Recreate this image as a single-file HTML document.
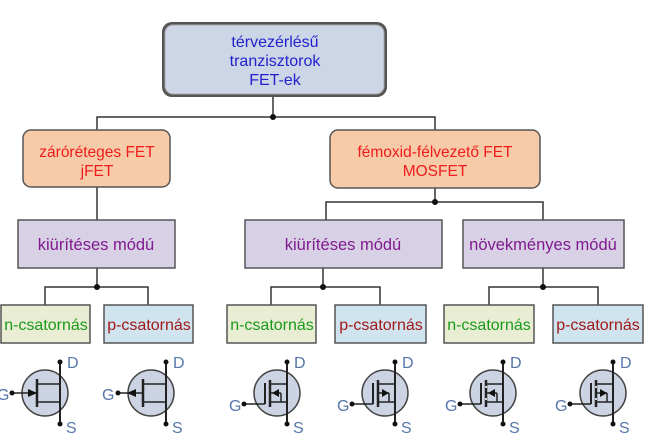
<!DOCTYPE html>
<html><head><meta charset="utf-8"><style>
html,body{margin:0;padding:0;background:#fff;width:656px;height:446px;overflow:hidden}
text{font-family:"Liberation Sans","DejaVu Sans",sans-serif}
</style></head><body>
<svg width="656" height="446" viewBox="0 0 656 446" xmlns="http://www.w3.org/2000/svg">
<defs>
<g id="jfet">
<circle cx="0" cy="0" r="23" fill="#ccd3e3" stroke="#444" stroke-width="1.5"/>
<line x1="15" y1="-31" x2="15" y2="31" stroke="#222" stroke-width="2"/>
<line x1="-8" y1="-14" x2="-8" y2="14" stroke="#222" stroke-width="2.5"/>
<line x1="-8" y1="-9" x2="15" y2="-9" stroke="#222" stroke-width="1.5"/>
<line x1="-8" y1="9" x2="15" y2="9" stroke="#222" stroke-width="1.5"/>
<circle cx="15" cy="-31" r="2.5" fill="#111"/><circle cx="15" cy="31" r="2.5" fill="#111"/>
<text x="22" y="-25" font-size="16" fill="#5577aa">D</text>
<text x="21" y="40" font-size="16" fill="#5577aa">S</text>
</g>
<g id="mos">
<circle cx="0" cy="0" r="23" fill="#ccd3e3" stroke="#444" stroke-width="1.5"/>
<line x1="10" y1="-31" x2="10" y2="31" stroke="#222" stroke-width="2"/>
<line x1="-33" y1="11" x2="-12" y2="11" stroke="#222" stroke-width="1.5"/>
<line x1="-12" y1="-10" x2="-12" y2="11" stroke="#222" stroke-width="2"/>
<line x1="-7" y1="-13" x2="-7" y2="14" stroke="#222" stroke-width="2.5"/>
<line x1="-7" y1="-9" x2="10" y2="-9" stroke="#222" stroke-width="1.5"/>
<line x1="-7" y1="0" x2="4" y2="0" stroke="#222" stroke-width="1.5"/>
<line x1="-7" y1="9" x2="10" y2="9" stroke="#222" stroke-width="1.5"/>
<line x1="4" y1="0" x2="4" y2="9" stroke="#222" stroke-width="1.5"/>
<circle cx="10" cy="-31" r="2.5" fill="#111"/><circle cx="10" cy="31" r="2.5" fill="#111"/>
<circle cx="-33" cy="11" r="2.5" fill="#111"/>
<text x="17" y="-25" font-size="16" fill="#5577aa">D</text>
<text x="16" y="40" font-size="16" fill="#5577aa">S</text>
<text x="-48" y="18" font-size="16" fill="#5577aa">G</text>
</g>
</defs>
<g stroke="#333" stroke-width="1.5" fill="none">
<line x1="273" y1="97" x2="273" y2="117"/>
<polyline points="97,130 97,117 435,117 435,130"/>
<line x1="97" y1="187" x2="97" y2="220"/>
<line x1="435" y1="187" x2="435" y2="202"/>
<polyline points="326,220 326,202 543,202 543,220"/>
<line x1="97" y1="268" x2="97" y2="287"/>
<polyline points="45,305 45,287 148,287 148,305"/>
<line x1="323" y1="268" x2="323" y2="287"/>
<polyline points="271,305 271,287 380,287 380,305"/>
<line x1="543" y1="268" x2="543" y2="287"/>
<polyline points="489,305 489,287 598,287 598,305"/>
</g>
<g fill="#111">
<circle cx="273" cy="117" r="3"/><circle cx="435" cy="202" r="3"/>
<circle cx="97" cy="287" r="3"/><circle cx="323" cy="287" r="3"/><circle cx="543" cy="287" r="3"/>
</g>
<rect x="162" y="22" width="225" height="75" rx="10" fill="#555"/>
<rect x="165" y="25" width="219" height="69" rx="8" fill="#ccd6e6" stroke="#aaa" stroke-width="1"/>
<g font-size="16" fill="#2222cc" text-anchor="middle">
<text x="275" y="47">térvezérlésű</text><text x="275" y="66">tranzisztorok</text><text x="275" y="85">FET-ek</text>
</g>
<rect x="23" y="130" width="147" height="57" rx="8" fill="#f8cba8" stroke="#555" stroke-width="1.5"/>
<rect x="330" y="130" width="210" height="58" rx="8" fill="#f8cba8" stroke="#555" stroke-width="1.5"/>
<g font-size="15.5" fill="#ee1c1c" text-anchor="middle">
<text x="97" y="157">záróréteges FET</text><text x="97" y="176">jFET</text>
<text x="435" y="157">fémoxid-félvezető FET</text><text x="435" y="176">MOSFET</text>
</g>
<g fill="#d8d0e4" stroke="#555" stroke-width="1.5">
<rect x="18" y="220" width="157" height="48"/>
<rect x="245" y="220" width="197" height="48"/>
<rect x="463" y="220" width="161" height="48"/>
</g>
<g font-size="16.5" fill="#801a90" text-anchor="middle">
<text x="96" y="250">kiürítéses módú</text><text x="343" y="250">kiürítéses módú</text><text x="543" y="250">növekményes módú</text>
</g>
<g stroke="#555" stroke-width="1.5">
<rect x="1" y="305" width="89" height="38" fill="#e8edd4"/>
<rect x="104" y="305" width="89" height="38" fill="#cfe4ee"/>
<rect x="227" y="305" width="89" height="38" fill="#e8edd4"/>
<rect x="335" y="305" width="91" height="38" fill="#cfe4ee"/>
<rect x="444" y="305" width="90" height="38" fill="#e8edd4"/>
<rect x="553" y="305" width="90" height="38" fill="#cfe4ee"/>
</g>
<g font-size="16" text-anchor="middle">
<text x="46" y="330" fill="#1a9a1a">n-csatornás</text>
<text x="149" y="330" fill="#a01818">p-csatornás</text>
<text x="272" y="330" fill="#1a9a1a">n-csatornás</text>
<text x="381" y="330" fill="#a01818">p-csatornás</text>
<text x="489" y="330" fill="#1a9a1a">n-csatornás</text>
<text x="598" y="330" fill="#a01818">p-csatornás</text>
</g>
<use href="#jfet" x="45" y="393"/>
<line x1="12" y1="393" x2="37" y2="393" stroke="#222" stroke-width="1.5"/>
<polygon points="37,393 28,389 28,397" fill="#111"/>
<circle cx="12" cy="393" r="2.5" fill="#111"/>
<text x="-3" y="400" font-size="16" fill="#5577aa">G</text>
<use href="#jfet" x="151" y="393"/>
<line x1="118" y1="393" x2="143" y2="393" stroke="#222" stroke-width="1.5"/>
<polygon points="127,393 136,389 136,397" fill="#111"/>
<circle cx="118" cy="393" r="2.5" fill="#111"/>
<text x="102" y="400" font-size="16" fill="#5577aa">G</text>
<use href="#mos" x="277" y="393"/>
<polygon points="272,393 279,389 279,397" fill="#111"/>
<use href="#mos" x="385" y="393"/>
<polygon points="389,393 382,389 382,397" fill="#111"/>
<use href="#mos" x="493" y="393"/>
<polygon points="488,393 495,389 495,397" fill="#111"/>
<g stroke="#ccd3e3" stroke-width="2"><line x1="486" y1="388" x2="486" y2="386"/><line x1="486" y1="398" x2="486" y2="400"/></g>
<use href="#mos" x="603" y="393"/>
<polygon points="607,393 600,389 600,397" fill="#111"/>
<g stroke="#ccd3e3" stroke-width="2"><line x1="596" y1="388" x2="596" y2="386"/><line x1="596" y1="398" x2="596" y2="400"/></g>
</svg>
</body></html>
